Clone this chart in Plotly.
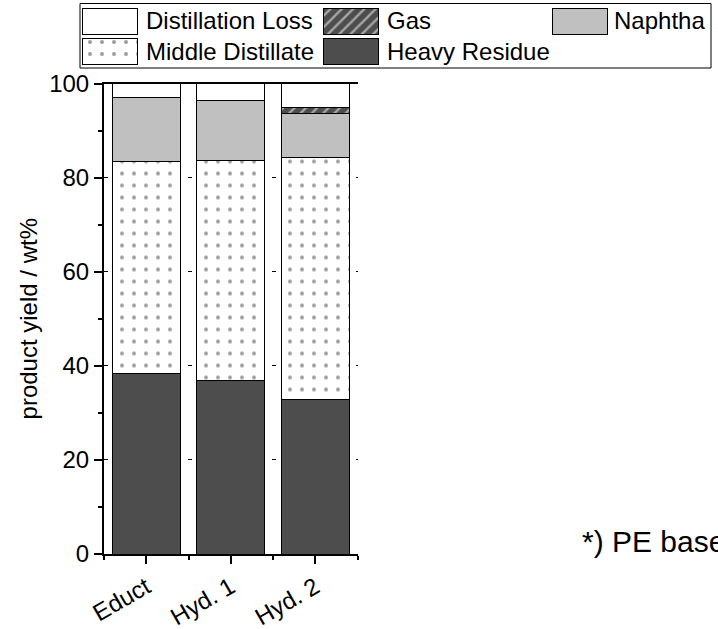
import plotly.graph_objects as go

# ---- data ----
categories = ["Educt", "Hyd. 1", "Hyd. 2"]
heavy_residue = [38.3, 36.9, 32.9]
middle_distillate = [45.2, 46.7, 51.3]
naphtha = [13.6, 12.7, 9.4]
gas = [0.0, 0.0, 1.3]
distillation_loss = [2.9, 3.7, 5.1]
y_ticks = [0, 20, 40, 60, 80, 100]

series_names = ["Heavy Residue", "Middle Distillate", "Naphtha", "Gas", "Distillation Loss"]
series_values = [heavy_residue, middle_distillate, naphtha, gas, distillation_loss]

# ---- styles ----
W, H = 718, 629
FONT = "Liberation Sans, Arial, sans-serif"
FS = 24
edge = dict(color="black", width=1)
styles = {
    "Heavy Residue": dict(color="#4d4d4d", line=edge),
    "Middle Distillate": dict(color="white", line=edge,
                              pattern=dict(shape=".", fgcolor="#3a3a3a", bgcolor="white",
                                           size=12, solidity=0.085, fillmode="overlay")),
    "Naphtha": dict(color="#c0c0c0", line=edge),
    "Gas": dict(color="#4d4d4d", line=edge,
                pattern=dict(shape="/", fgcolor="white", bgcolor="#4d4d4d",
                             size=8, solidity=0.3, fillmode="overlay")),
    "Distillation Loss": dict(color="white", line=edge),
}

# plot area in pixels (screen coords, top-left origin)
px_l, px_r, px_t, px_b = 104, 357.6, 83.5, 554

x_idx = list(range(len(categories)))
fig = go.Figure()
for name, vals in zip(series_names, series_values):
    fig.add_bar(name=name, x=x_idx, y=vals, marker=styles[name], showlegend=False)

# ---- custom legend (swatches on a pixel-scaled overlay axis) ----
legend_order = ["Distillation Loss", "Gas", "Naphtha", "Middle Distillate", "Heavy Residue"]
col_swatch_left = [82, 323, 552]
col_text_left = [144, 385, 612]
row_top = [8, 38]
sw_w, sw_h = 55, 26
annotations = []
for i, name in enumerate(legend_order):
    r, c = divmod(i, 3)
    fig.add_bar(x=[col_swatch_left[c] + sw_w / 2], y=[sw_h], base=[row_top[r]],
                width=[sw_w], marker=styles[name], xaxis="x2", yaxis="y2",
                showlegend=False, hoverinfo="skip")
    annotations.append(dict(text=name, xref="paper", yref="paper",
                            x=col_text_left[c] / W, y=1 - (row_top[r] + sw_h / 2) / H,
                            xanchor="left", yanchor="middle", showarrow=False,
                            font=dict(family=FONT, size=FS, color="black")))

annotations.append(dict(text="*) PE based", xref="paper", yref="paper",
                        x=580 / W, y=1 - 541 / H, xanchor="left", yanchor="middle",
                        showarrow=False, font=dict(family=FONT, size=30, color="black")))

fig.update_layout(
    barmode="stack",
    bargap=0.2,
    width=W, height=H,
    margin=dict(l=0, r=0, t=0, b=0, pad=0, autoexpand=False),
    paper_bgcolor="white", plot_bgcolor="rgba(0,0,0,0)",
    font=dict(family=FONT, size=FS, color="black"),
    showlegend=False,
    xaxis=dict(
        domain=[px_l / W, px_r / W], anchor="y",
        range=[-0.5, 2.5],
        tickmode="array", tickvals=x_idx, ticktext=categories,
        tickangle=-30,
        ticks="outside", ticklen=8, tickwidth=2, tickcolor="black",
        showline=True, linecolor="black", linewidth=2, mirror=True,
        showgrid=False, zeroline=False,
        minor=dict(tickmode="linear", tick0=0.5, dtick=1, ticks="outside",
                   ticklen=4, tickwidth=2, tickcolor="black", showgrid=False),
        tickfont=dict(family=FONT, size=FS),
    ),
    yaxis=dict(
        domain=[1 - px_b / H, 1 - px_t / H], anchor="x",
        range=[0, 100],
        tickmode="array", tickvals=y_ticks,
        ticks="outside", ticklen=8, tickwidth=2, tickcolor="black",
        showline=True, linecolor="black", linewidth=2, mirror=False,
        showgrid=True, gridcolor="black", gridwidth=1, griddash="4px,8px",
        zeroline=False,
        minor=dict(tickmode="linear", tick0=10, dtick=20, ticks="outside",
                   ticklen=4, tickwidth=2, tickcolor="black", showgrid=False),
        title=dict(text="product yield / wt%", font=dict(family=FONT, size=FS),
                   standoff=5),
        tickfont=dict(family=FONT, size=FS),
    ),
    xaxis2=dict(domain=[0, 1], range=[0, W], visible=False, anchor="y2", fixedrange=True),
    yaxis2=dict(domain=[0, 1], range=[H, 0], visible=False, anchor="x2", fixedrange=True),
    shapes=[dict(type="rect", xref="paper", yref="paper",
                 x0=80 / W, x1=711 / W, y0=1 - 68 / H, y1=1 - 3.5 / H,
                 line=dict(color="black", width=1), fillcolor="rgba(0,0,0,0)", layer="below")],
    annotations=annotations,
)

fig.write_html("out.html", config={"displayModeBar": False},
               post_script="document.body.style.margin='0px';")
